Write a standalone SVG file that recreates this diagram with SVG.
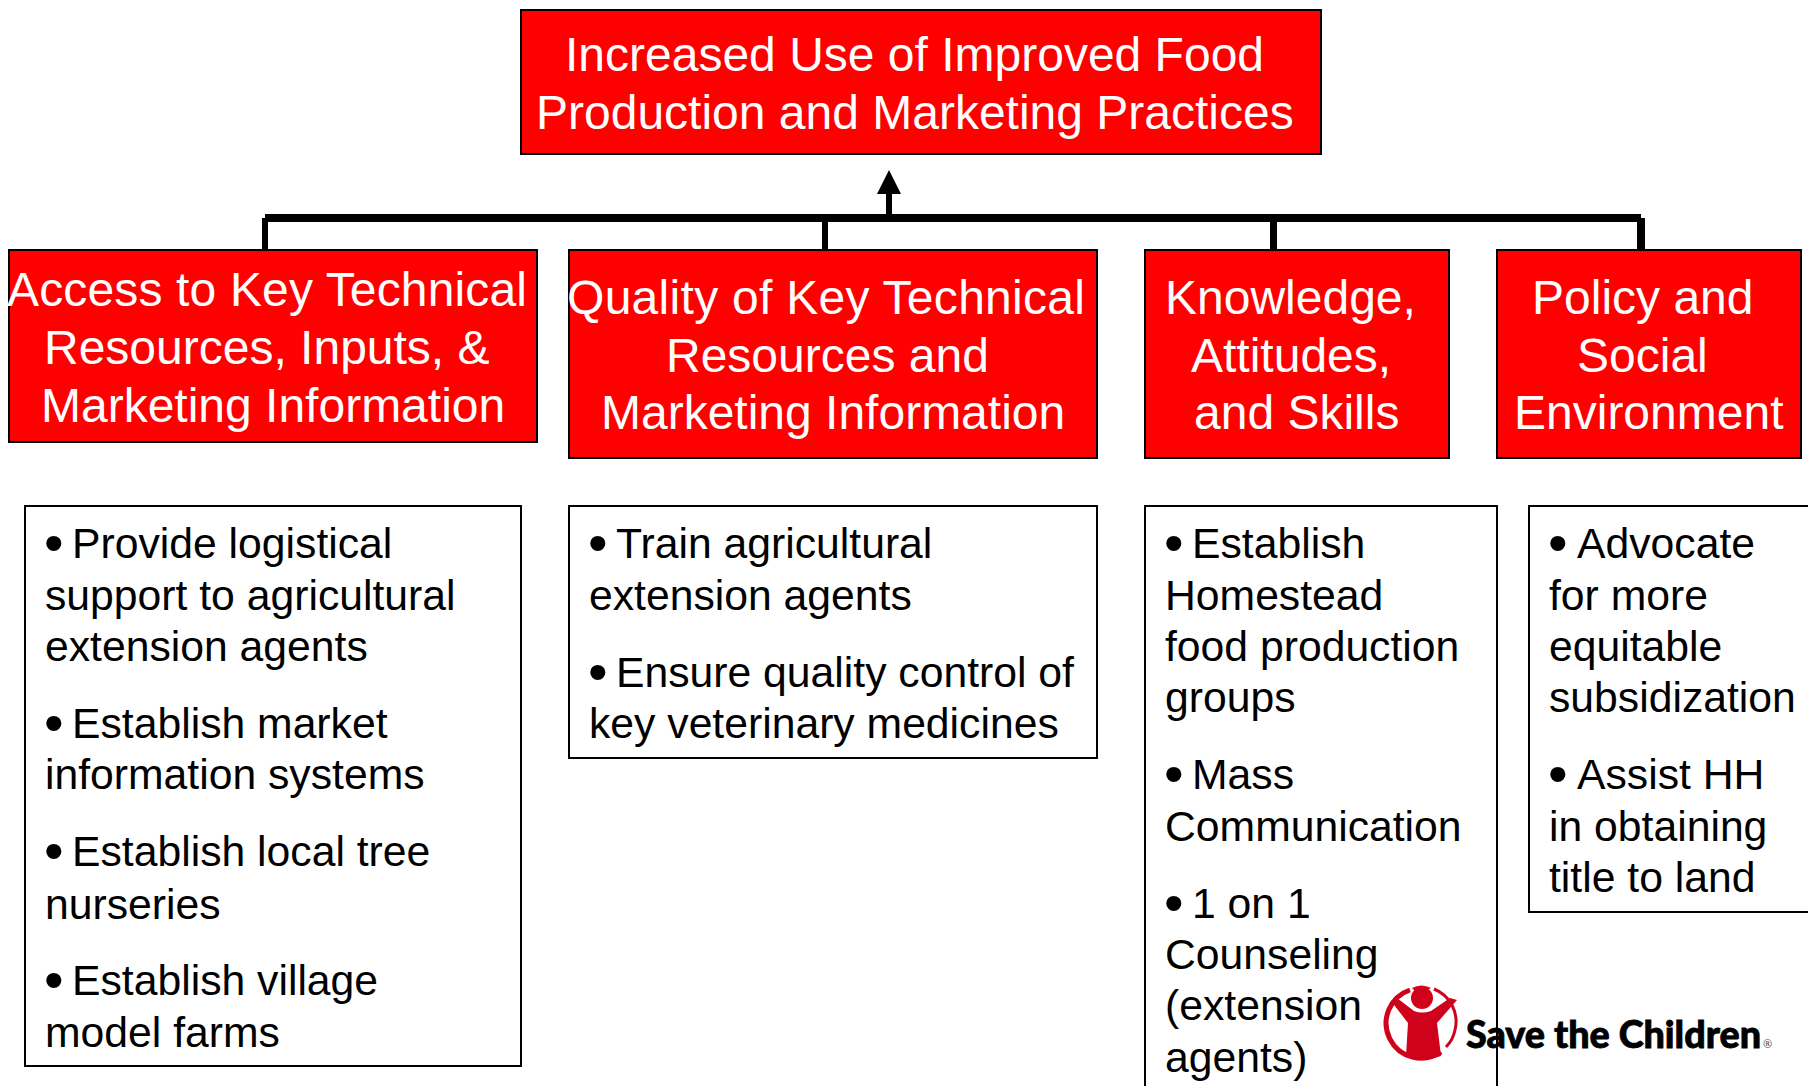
<svg xmlns="http://www.w3.org/2000/svg" width="1808" height="1086" viewBox="0 0 1808 1086">
<style>
.r{fill:#f00;stroke:#000;stroke-width:2}
.b{fill:#fff;stroke:#000;stroke-width:2}
.t{font-family:"Liberation Sans",Arial,sans-serif;font-size:48px;fill:#fff}
.l{font-family:"Liberation Sans",Arial,sans-serif;font-size:42.7px;fill:#000}
.d{font-family:"Liberation Sans",Arial,sans-serif;font-size:56px;fill:#000}
.c{fill:#000;stroke:none}
.m{fill:#d0021b}
</style>
<rect width="1808" height="1086" fill="#fff"/>
<g id="connectors">
<rect class="c" x="265" y="214" width="1376" height="8"/>
<rect class="c" x="262" y="218" width="6" height="32"/>
<rect class="c" x="822" y="218" width="6" height="32"/>
<rect class="c" x="1270" y="218" width="7" height="32"/>
<rect class="c" x="1637" y="218" width="8" height="32"/>
<rect class="c" x="886" y="192" width="6" height="24"/>
<polygon class="c" points="889,170 901,194 877,194"/>
</g>
<g id="node-goal"><rect class="r" x="521" y="10" width="800" height="144"/>
<text class="t" x="565" y="71">Increased Use of Improved Food</text>
<text class="t" x="536" y="129">Production and Marketing Practices</text></g>
<g id="node-access"><rect class="r" x="9" y="250" width="528" height="192"/>
<text class="t" x="7" y="306" textLength="520">Access to Key Technical</text>
<text class="t" x="44" y="364">Resources, Inputs, &amp;</text>
<text class="t" x="41" y="422">Marketing Information</text></g>
<g id="node-quality"><rect class="r" x="569" y="250" width="528" height="208"/>
<text class="t" x="567" y="314" textLength="518">Quality of Key Technical</text>
<text class="t" x="666" y="372">Resources and</text>
<text class="t" x="601" y="429">Marketing Information</text></g>
<g id="node-knowledge"><rect class="r" x="1145" y="250" width="304" height="208"/>
<text class="t" x="1165" y="314">Knowledge,</text>
<text class="t" x="1191" y="372">Attitudes,</text>
<text class="t" x="1194" y="429">and Skills</text></g>
<g id="node-policy"><rect class="r" x="1497" y="250" width="304" height="208"/>
<text class="t" x="1532" y="314">Policy and</text>
<text class="t" x="1577" y="372">Social</text>
<text class="t" x="1514" y="429">Environment</text></g>
<g id="logo">
<path d="M1410 990A35 35 0 1 0 1441 1052" fill="none" stroke="#d0021b" stroke-width="5"/>
<path d="M1434 989A35 35 0 0 1 1455 1030Q1453 1040 1446 1047" fill="none" stroke="#d0021b" stroke-width="3"/>
<path class="m" d="M1412 988Q1421 983 1431 988L1428 990H1414Z"/>
<circle class="m" cx="1422" cy="998" r="11"/>
<path class="m" d="M1391 1001L1397 998L1414 1011Q1422 1014 1431 1011L1450 998L1457 1000L1437 1023L1441 1056Q1425 1062 1406 1056L1408 1023Z"/>
<text x="1466" y="1048" font-family="Lato,sans-serif" font-weight="900" font-size="37" textLength="295" lengthAdjust="spacingAndGlyphs" fill="#000" stroke="#000" stroke-width="0.8">Save the Children</text>
<text x="1763" y="1048" font-family="'Open Sans',sans-serif" font-size="11" fill="#444">®</text>
</g>
<g id="list-access"><rect class="b" x="25" y="506" width="496" height="560"/>
<text class="d" x="44" y="562">•</text><text class="l" x="72" y="558">Provide logistical</text>
<text class="l" x="45" y="610">support to agricultural</text>
<text class="l" x="45" y="661">extension agents</text>
<text class="d" x="44" y="742">•</text><text class="l" x="72" y="738">Establish market</text>
<text class="l" x="45" y="789">information systems</text>
<text class="d" x="44" y="870">•</text><text class="l" x="72" y="866">Establish local tree</text>
<text class="l" x="45" y="919">nurseries</text>
<text class="d" x="44" y="999">•</text><text class="l" x="72" y="995">Establish village</text>
<text class="l" x="45" y="1047">model farms</text></g>
<g id="list-quality"><rect class="b" x="569" y="506" width="528" height="252"/>
<text class="d" x="588" y="562">•</text><text class="l" x="616" y="558">Train agricultural</text>
<text class="l" x="589" y="610">extension agents</text>
<text class="d" x="588" y="691">•</text><text class="l" x="616" y="687">Ensure quality control of</text>
<text class="l" x="589" y="738">key veterinary medicines</text></g>
<g id="list-knowledge"><rect x="1145" y="506" width="352" height="600" fill="none" stroke="#000" stroke-width="2"/>
<text class="d" x="1164" y="562">•</text><text class="l" x="1192" y="558">Establish</text>
<text class="l" x="1165" y="610">Homestead</text>
<text class="l" x="1165" y="661">food production</text>
<text class="l" x="1165" y="712">groups</text>
<text class="d" x="1164" y="793">•</text><text class="l" x="1192" y="789">Mass</text>
<text class="l" x="1165" y="841">Communication</text>
<text class="d" x="1164" y="922">•</text><text class="l" x="1192" y="918">1 on 1</text>
<text class="l" x="1165" y="969">Counseling</text>
<text class="l" x="1165" y="1020">(extension</text>
<text class="l" x="1165" y="1072">agents)</text></g>
<g id="list-policy"><rect class="b" x="1529" y="506" width="300" height="406"/>
<text class="d" x="1548" y="562">•</text><text class="l" x="1577" y="558">Advocate</text>
<text class="l" x="1549" y="610">for more</text>
<text class="l" x="1549" y="661">equitable</text>
<text class="l" x="1549" y="712">subsidization</text>
<text class="d" x="1548" y="793">•</text><text class="l" x="1577" y="789">Assist HH</text>
<text class="l" x="1549" y="841">in obtaining</text>
<text class="l" x="1549" y="892">title to land</text></g>
</svg>
